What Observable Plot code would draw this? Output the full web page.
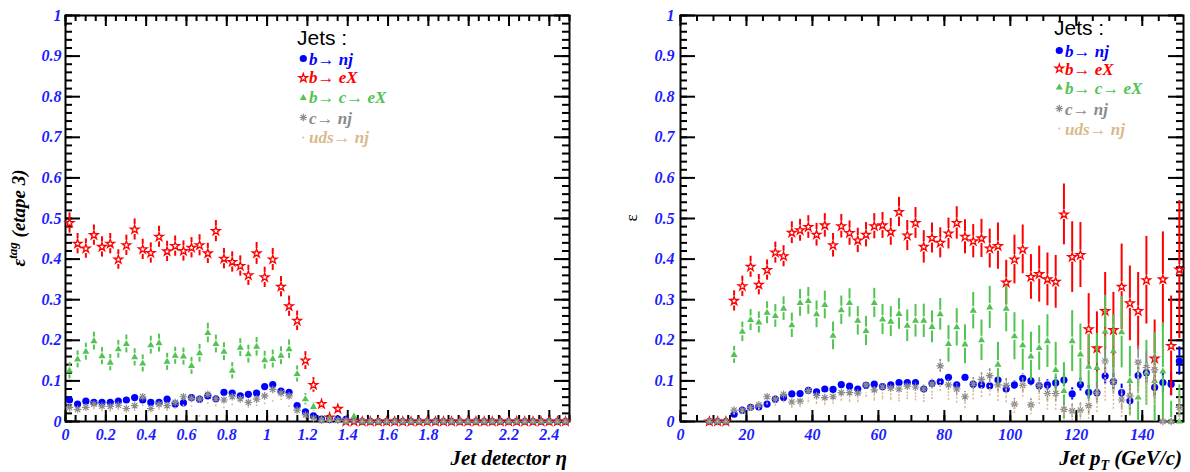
<!DOCTYPE html>
<html><head><meta charset="utf-8">
<script src="https://cdn.jsdelivr.net/npm/d3@7"></script>
<script src="https://cdn.jsdelivr.net/npm/@observablehq/plot@0.6"></script>
<style>
html,body{margin:0;padding:0;background:#fff;}
#wrap{position:relative;width:1190px;height:472px;display:flex;overflow:hidden;}
#wrap svg{display:block;flex:none;}
</style></head><body><div id="wrap"></div>
<script>
// ---------------- data ----------------
const yTicks = [0, 0.1, 0.2, 0.3, 0.4, 0.5, 0.6, 0.7, 0.8, 0.9, 1];
const etaTicks = [0, 0.2, 0.4, 0.6, 0.8, 1, 1.2, 1.4, 1.6, 1.8, 2, 2.2, 2.4];
const ptTicks = [0, 20, 40, 60, 80, 100, 120, 140];
const legendTitle = "Jets :";
const legendLabels = ["b\u2192 nj", "b\u2192 eX", "b\u2192 c\u2192 eX", "c\u2192 nj", "uds\u2192 nj"];

const etaCenters = [0.020,0.060,0.101,0.141,0.181,0.222,0.262,0.302,0.343,0.383,0.423,0.464,0.504,0.544,0.585,0.625,0.665,0.706,0.746,0.786,0.827,0.867,0.907,0.948,0.988,1.028,1.069,1.109,1.149,1.190,1.230,1.270,1.310,1.351,1.391,1.431,1.472,1.512,1.552,1.593,1.633,1.673,1.714,1.754,1.794,1.835,1.875,1.915,1.956,1.996,2.036,2.077,2.117,2.157,2.198,2.238,2.278,2.319,2.359,2.399,2.440,2.480];

const etaBlue = [0.053,0.043,0.050,0.047,0.047,0.047,0.050,0.053,0.059,0.053, 0.047,0.047,0.055,0.043,0.046,0.059,0.055,0.063,0.056,0.072, 0.070,0.063,0.067,0.070,0.086,0.091,0.075,0.072,0.039,0.024, 0.014,0.006,0.005,0.006,0.005,0.003,0,0,0,0, 0,0,0,0,0,0,0,0,0,0, 0,0,0,0,0,0,0,0,0,0, 0,0];
const etaRed = [0.489,0.438,0.426,0.459,0.430,0.438,0.399,0.434,0.473,0.424, 0.415,0.455,0.419,0.432,0.420,0.428,0.434,0.414,0.469,0.401, 0.393,0.383,0.360,0.414,0.355,0.399,0.332,0.284,0.248,0.150, 0.090,0.043,0.010,0.031,0,0,0,0,0,0, 0,0,0,0,0,0,0,0,0,0, 0,0,0,0,0,0,0,0,0,0, 0,0];
const etaRedErr = [0.025,0.025,0.024,0.025,0.025,0.025,0.024,0.025,0.026,0.025, 0.025,0.026,0.025,0.025,0.025,0.025,0.026,0.025,0.026,0.025, 0.025,0.025,0.025,0.027,0.025,0.027,0.025,0.025,0.024,0.022, 0.018,0.013,0.007,0.010,0,0,0,0,0,0, 0,0,0,0,0,0,0,0,0,0, 0,0,0,0,0,0,0,0,0,0, 0,0];
const etaGreen = [0.125,0.153,0.172,0.198,0.161,0.145,0.178,0.191,0.158,0.143, 0.188,0.193,0.147,0.162,0.160,0.137,0.168,0.218,0.191,0.172, 0.125,0.182,0.166,0.184,0.151,0.154,0.162,0.178,0.117,0.055, 0.036,0.005,0.007,0.002,0,0.012,0,0,0,0, 0,0,0,0,0,0,0,0,0,0, 0,0,0,0,0,0,0,0,0,0, 0,0];
const etaGreenErr = [0.020,0.021,0.021,0.022,0.021,0.020,0.022,0.022,0.021,0.021, 0.022,0.022,0.021,0.021,0.021,0.021,0.022,0.024,0.022,0.022, 0.020,0.022,0.022,0.023,0.022,0.022,0.022,0.023,0.020,0.014, 0.011,0.004,0.004,0.002,0,0.006,0,0,0,0, 0,0,0,0,0,0,0,0,0,0, 0,0,0,0,0,0,0,0,0,0, 0,0];
const etaGray = [0.035,0.030,0.035,0.043,0.038,0.037,0.040,0.032,0.039,0.061, 0.032,0.042,0.039,0.047,0.061,0.057,0.055,0.067,0.056,0.053, 0.061,0.056,0.047,0.055,0.063,0.079,0.070,0.063,0.028,0.016, 0.008,0.003,0.004,0.003,0.002,0.002,0,0,0,0, 0,0,0,0,0,0,0,0,0,0, 0,0,0,0,0,0,0,0,0,0, 0,0];
const etaUds = [0.025,0.022,0.028,0.032,0.027,0.026,0.030,0.024,0.028,0.040, 0.025,0.031,0.028,0.033,0.040,0.038,0.014,0.045,0.040,0.035, 0.042,0.047,0.036,0.040,0.045,0.051,0.055,0.038,0.020,0.010, 0.005,0.002,0.002,0.001,0,0,0,0,0,0, 0,0,0,0,0,0,0,0,0,0, 0,0,0,0,0,0,0,0,0,0, 0,0];

const ptCenters = [8.75,11.25,13.75,16.25,18.75,21.25,23.75,26.25,28.75,31.25,33.75,36.25,38.75,41.25,43.75,46.25,48.75,51.25,53.75,56.25,58.75,61.25,63.75,66.25,68.75,71.25,73.75,76.25,78.75,81.25,83.75,86.25,88.75,91.25,93.75,96.25,98.75,101.25,103.75,106.25,108.75,111.25,113.75,116.25,118.75,121.25,123.75,126.25,128.75,131.25,133.75,136.25,138.75,141.25,143.75,146.25,148.75,151.25];

const ptBlue = [0,0,0,0.018,0.028,0.035,0.036,0.043,0.055,0.059, 0.068,0.069,0.077,0.073,0.080,0.079,0.091,0.087,0.080,0.089, 0.092,0.086,0.090,0.096,0.096,0.096,0.080,0.094,0.098,0.109, 0.090,0.109,0.092,0.090,0.088,0.102,0.080,0.090,0.106,0.100, 0.088,0.090,0.095,0.102,0.068,0.091,0.072,0.071,0.112,0.098, 0.071,0.051,0.113,0.120,0.084,0.096,0.092,0.149];
const ptBlueErr = [0,0,0,0.003,0.003,0.003,0.003,0.003,0.003,0.003, 0.003,0.003,0.003,0.003,0.003,0.003,0.003,0.003,0.003,0.003, 0.004,0.005,0.005,0.005,0.006,0.006,0.006,0.006,0.007,0.007, 0.007,0.008,0.008,0.009,0.009,0.010,0.010,0.011,0.011,0.012, 0.012,0.013,0.014,0.015,0.015,0.016,0.017,0.018,0.020,0.020, 0.021,0.022,0.024,0.025,0.024,0.026,0.028,0.035];
const ptRed = [0,0,0,0.297,0.333,0.381,0.337,0.373,0.416,0.407, 0.465,0.471,0.479,0.460,0.483,0.434,0.481,0.464,0.446,0.460, 0.481,0.483,0.467,0.516,0.458,0.489,0.430,0.452,0.440,0.463, 0.489,0.455,0.444,0.451,0.426,0.432,0.342,0.399,0.424,0.356, 0.363,0.350,0.344,0.510,0.405,0.410,0.227,0.180,0.272,0.225, 0.332,0.291,0.272,0.348,0.155,0.350,0.186,0.374];
const ptRedErr = [0,0,0,0.025,0.025,0.026,0.025,0.025,0.026,0.026, 0.027,0.027,0.028,0.028,0.029,0.029,0.029,0.030,0.030,0.030, 0.031,0.032,0.033,0.036,0.037,0.038,0.040,0.037,0.037,0.038, 0.040,0.042,0.041,0.047,0.048,0.057,0.055,0.060,0.060,0.055, 0.069,0.065,0.065,0.075,0.087,0.080,0.088,0.090,0.095,0.093, 0.105,0.092,0.095,0.108,0.095,0.117,0.123,0.170];
const ptGreen = [0,0,0,0.164,0.221,0.250,0.244,0.268,0.260,0.278, 0.237,0.292,0.297,0.264,0.287,0.211,0.274,0.292,0.248,0.223, 0.292,0.251,0.246,0.265,0.236,0.248,0.248,0.233,0.264,0.191, 0.232,0.190,0.273,0.200,0.281,0.140,0.278,0.210,0.188,0.160, 0.181,0.198,0.127,0.075,0.198,0.165,0.135,0.132,0.221,0.173, 0.220,0.100,0.059,0.120,0.100,0.123,0,0];
const ptGreenErr = [0,0,0,0.021,0.024,0.026,0.026,0.027,0.028,0.029, 0.030,0.033,0.033,0.033,0.034,0.034,0.035,0.035,0.035,0.036, 0.036,0.037,0.037,0.038,0.039,0.040,0.041,0.039,0.039,0.045, 0.046,0.048,0.045,0.050,0.052,0.055,0.057,0.058,0.062,0.060, 0.055,0.065,0.068,0.070,0.075,0.075,0.080,0.085,0.090,0.090, 0.088,0.085,0.090,0.080,0.120,0.120,0.050,0.090];
const ptGray = [0,0,0,0.028,0.028,0.035,0.041,0.061,0.055,0.067, 0.048,0.050,0.076,0.064,0.059,0.061,0.071,0.071,0.070,0.090, 0.078,0.085,0.082,0.080,0.087,0.085,0.080,0.092,0.137,0.090, 0.080,0.061,0.093,0.104,0.113,0.090,0.089,0.043,0.089,0.041, 0.089,0.069,0.069,0.030,0.026,0.028,0.039,0.071,0.149,0.098, 0.053,0.063,0.146,0.133,0.127,0,0,0.035];
const ptGrayErr = [0,0,0,0.004,0.004,0.004,0.004,0.005,0.005,0.005, 0.005,0.005,0.006,0.006,0.006,0.006,0.007,0.007,0.007,0.008, 0.008,0.009,0.009,0.010,0.010,0.011,0.011,0.012,0.016,0.013, 0.013,0.013,0.015,0.016,0.017,0.016,0.017,0.014,0.018,0.015, 0.019,0.019,0.020,0.017,0.017,0.018,0.020,0.025,0.035,0.030, 0.025,0.030,0.040,0.040,0.035,0,0,0.020];
const ptUds = [0,0,0,0.020,0.025,0.030,0.032,0.045,0.042,0.050, 0.038,0.040,0.052,0.048,0.045,0.047,0.055,0.053,0.052,0.065, 0.058,0.062,0.060,0.058,0.064,0.062,0.058,0.066,0.090,0.065, 0.058,0.045,0.068,0.075,0.080,0.065,0.063,0.035,0.080,0.032, 0.062,0.050,0.050,0.022,0.020,0.024,0.030,0.052,0.100,0.070, 0.040,0.048,0.100,0.095,0.090,0,0,0.030];
const ptUdsErr = [0,0,0,0.005,0.005,0.005,0.005,0.005,0.005,0.005, 0.006,0.006,0.006,0.006,0.006,0.006,0.006,0.006,0.006,0.006, 0.008,0.009,0.009,0.010,0.010,0.011,0.011,0.012,0.016,0.013, 0.013,0.013,0.015,0.016,0.017,0.016,0.017,0.015,0.020,0.016, 0.020,0.022,0.022,0.018,0.018,0.020,0.025,0.030,0.050,0.040, 0.030,0.035,0.050,0.050,0.050,0,0,0.030];

// ---------------- style ----------------
const SER = "'Liberation Serif', 'Times New Roman', serif";
const SANS = "'Liberation Sans', Arial, sans-serif";
const H = 472, MT = 15, MB = 51;
const BLUE = "#0000ff", RED = "#ff0000", GREEN = "#52c452", GRAY = "#8a8a8a", TAN = "#d9b98c", TICKBLUE = "#1c1cff";

const asterisk8 = {
  draw(ctx, size) {
    const r = Math.sqrt(size / Math.PI), a = r * Math.SQRT1_2;
    ctx.moveTo(-r, 0); ctx.lineTo(r, 0);
    ctx.moveTo(0, -r); ctx.lineTo(0, r);
    ctx.moveTo(-a, -a); ctx.lineTo(a, a);
    ctx.moveTo(-a, a); ctx.lineTo(a, -a);
  }
};

const styles = [
  {color: BLUE, symbol: "circle", r: 3.6, fill: BLUE, stroke: "none", sw: 0, gap: 4, bw: 2, dash: null},
  {color: RED, symbol: "star", r: 2.7, fill: "none", stroke: RED, sw: 1.3, gap: 5, bw: 2, dash: null},
  {color: GREEN, symbol: "triangle", r: 2.6, fill: GREEN, stroke: "none", sw: 0, gap: 4, bw: 2, dash: null},
  {color: GRAY, symbol: asterisk8, r: 3.8, fill: "none", stroke: GRAY, sw: 1.2, gap: 4, bw: 1.6, dash: null},
  {color: TAN, symbol: "circle", r: 0.9, fill: TAN, stroke: "none", sw: 0, gap: 1.5, bw: 1.5, dash: "2,2"}
];

const fmt = d => String(+d.toFixed(2));
const yMinor = d3.range(0, 1.0001, 0.02);
const etaMinor = d3.range(0, 2.5001, 0.05);
const ptMinor = d3.range(0, 152.5, 5);

function panel({width, ml, mr, xDomain, xTicks, xMinor, xs, series, yPad}) {
  const iw = width - ml - mr, ih = H - MT - MB;
  const tk = {stroke: "black", strokeWidth: 2};
  const axisFont = {fill: TICKBLUE, fontSize: 16, fontFamily: SER, fontWeight: "bold", fontStyle: "italic"};
  const marks = [
    Plot.frame({stroke: "black", strokeWidth: 2}),
    Plot.tickY(yMinor, {y: d => d, insetRight: iw - 7, ...tk}),
    Plot.tickY(yTicks, {y: d => d, insetRight: iw - 15, ...tk}),
    Plot.tickY(yMinor, {y: d => d, insetLeft: iw - 7, ...tk}),
    Plot.tickY(yTicks, {y: d => d, insetLeft: iw - 15, ...tk}),
    Plot.tickX(xMinor, {x: d => d, insetTop: ih - 6, ...tk}),
    Plot.tickX(xTicks, {x: d => d, insetTop: ih - 11, ...tk}),
    Plot.tickX(xMinor, {x: d => d, insetBottom: ih - 6, ...tk}),
    Plot.tickX(xTicks, {x: d => d, insetBottom: ih - 11, ...tk}),
    Plot.axisY(yTicks, {...axisFont, tickSize: 0, tickPadding: yPad, tickFormat: fmt, label: null}),
    Plot.axisX(xTicks, {...axisFont, tickSize: 0, tickPadding: 7, tickFormat: fmt, label: null})
  ];
  series.forEach((s, k) => {
    const st = styles[k];
    const rows = xs.map((x, i) => ({x, v: s.values[i], e: s.errors ? s.errors[i] : 0}));
    const g = st.gap / ih;
    const withErr = rows.filter(d => d.e > g);
    const ropt = {x: "x", stroke: st.color, strokeWidth: st.bw, strokeDasharray: st.dash, clip: true};
    marks.push(Plot.ruleX(withErr, {...ropt, y1: d => d.v + g, y2: d => d.v + d.e}));
    marks.push(Plot.ruleX(withErr, {...ropt, y1: d => d.v - d.e, y2: d => d.v - g}));
    marks.push(Plot.dot(rows, {x: "x", y: "v", symbol: st.symbol, r: st.r, fill: st.fill, stroke: st.stroke, strokeWidth: st.sw}));
  });
  return Plot.plot({
    width, height: H, marginLeft: ml, marginRight: mr, marginTop: MT, marginBottom: MB,
    x: {domain: xDomain}, y: {domain: [0, 1]},
    style: {background: "white", overflow: "visible"},
    marks
  });
}

function addLegend(svg, {jx, jy, mx, tx, my, by}) {
  const g = d3.select(svg).append("g").attr("text-anchor", "start");
  g.append("text").attr("x", jx).attr("y", jy).attr("text-anchor", "start").attr("font-family", SANS).attr("font-size", 21).attr("fill", "black").text(legendTitle);
  legendLabels.forEach((lab, k) => {
    const st = styles[k];
    const rr = k === 4 ? 1.0 : st.r;
    g.append("path").attr("transform", `translate(${mx},${my[k]})`)
      .attr("d", d3.symbol(typeof st.symbol === "string" ? {circle: d3.symbolCircle, star: d3.symbolStar, triangle: d3.symbolTriangle}[st.symbol] : st.symbol, Math.PI * rr * rr)())
      .attr("fill", st.fill).attr("stroke", st.stroke).attr("stroke-width", st.sw);
    g.append("text").attr("x", tx).attr("y", by[k]).attr("text-anchor", "start").attr("font-family", SER).attr("font-size", 17)
      .attr("font-weight", "bold").attr("font-style", "italic").attr("fill", st.color).text(lab);
  });
}

const wrap = document.getElementById("wrap");

// left panel
const left = panel({
  width: 595, ml: 65, mr: 26, xDomain: [0, 2.5], xTicks: etaTicks, xMinor: etaMinor, xs: etaCenters, yPad: 4,
  series: [
    {values: etaBlue}, {values: etaRed, errors: etaRedErr}, {values: etaGreen, errors: etaGreenErr},
    {values: etaGray}, {values: etaUds}
  ]
});
wrap.appendChild(left);
{
  const s = d3.select(left);
  const t = s.append("text").attr("transform", "translate(25,218) rotate(-90)").attr("text-anchor", "middle")
    .attr("font-family", SER).attr("font-weight", "bold").attr("font-style", "italic").attr("font-size", 19).attr("fill", "black");
  t.append("tspan").text("\u03b5");
  t.append("tspan").attr("dy", -8).attr("font-size", 13).text("tag");
  t.append("tspan").attr("dy", 8).text(" (etape 3)");
  s.append("text").attr("x", 567).attr("y", 465).attr("text-anchor", "end")
    .attr("font-family", SER).attr("font-weight", "bold").attr("font-style", "italic").attr("font-size", 21).attr("fill", "black")
    .text("Jet detector \u03b7");
  addLegend(left, {jx: 297, jy: 45, mx: 303.3, tx: 309, my: [58.5, 78, 98, 117.5, 137.5], by: [65, 83, 103, 124, 143]});
}

// right panel
const right = panel({
  width: 595, ml: 85, mr: 7, xDomain: [0, 152.5], xTicks: ptTicks, xMinor: ptMinor, xs: ptCenters, yPad: 6,
  series: [
    {values: ptBlue, errors: ptBlueErr}, {values: ptRed, errors: ptRedErr}, {values: ptGreen, errors: ptGreenErr},
    {values: ptGray, errors: ptGrayErr}, {values: ptUds, errors: ptUdsErr}
  ]
});
wrap.appendChild(right);
{
  const s = d3.select(right);
  s.append("text").attr("transform", "translate(42,218) rotate(-90)").attr("text-anchor", "middle")
    .attr("font-family", SER).attr("font-size", 17).attr("fill", "black").text("\u03b5");
  const t = s.append("text").attr("x", 587).attr("y", 465).attr("text-anchor", "end")
    .attr("font-family", SER).attr("font-weight", "bold").attr("font-style", "italic").attr("font-size", 21).attr("fill", "black");
  t.append("tspan").text("Jet p");
  t.append("tspan").attr("dy", 5).attr("font-size", 14).text("T");
  t.append("tspan").attr("dy", -5).text(" (GeV/c)");
  addLegend(right, {jx: 459, jy: 35, mx: 464.3, tx: 470, my: [50.5, 68.5, 87.5, 108.5, 128.5], by: [56.5, 74.5, 93.5, 115, 134.5]});
}
</script></body></html>
